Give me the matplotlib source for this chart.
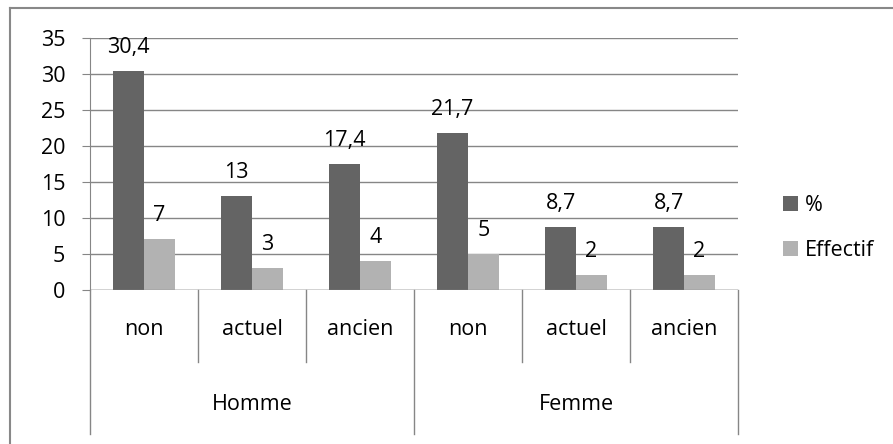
import numpy as np
import matplotlib.pyplot as plt
from matplotlib.lines import Line2D

plt.rcParams['font.family'] = ['Open Sans', 'DejaVu Sans']

# Data
groups = ['Homme', 'Femme']
statuts = ['non', 'actuel', 'ancien', 'non', 'actuel', 'ancien']
pourcent = [30.4, 13, 17.4, 21.7, 8.7, 8.7]
effectif = [7, 3, 4, 5, 2, 2]

dark = '#646464'
light = '#b2b2b2'
grid_c = '#868686'
fs = 15.5

W, H = 893, 444
fig = plt.figure(figsize=(W / 100, H / 100), dpi=100)
ax = fig.add_axes([90 / W, 1 - 289.7 / H, (738 - 90) / W, (289.7 - 37.7) / H])

x = np.arange(len(statuts)) + 0.5
bw = 0.285
b1 = ax.bar(x - bw / 2, pourcent, bw, color=dark, label='%', zorder=3)
b2 = ax.bar(x + bw / 2, effectif, bw, color=light, label='Effectif', zorder=3)

fmt = lambda v: ('%g' % v).replace('.', ',')
ax.bar_label(b1, labels=[fmt(v) for v in pourcent], padding=9.5, fontsize=fs)
ax.bar_label(b2, labels=[fmt(v) for v in effectif], padding=9.5, fontsize=fs)

ax.set_xlim(0, len(statuts))
ax.set_ylim(0, 35)
ax.set_yticks(range(0, 36, 5))
ax.tick_params(axis='y', length=5.8, color=grid_c, labelsize=fs, pad=12)
ax.set_xticks([])
ax.grid(axis='y', color=grid_c, lw=1, zorder=0)
for s in ['top', 'right', 'bottom']:
    ax.spines[s].set_visible(False)
ax.spines['left'].set_color(grid_c)
ax.axhline(0, color=grid_c, lw=1, zorder=4)

# multi-level category axis
tr = ax.get_xaxis_transform()
n = len(statuts)
per = n // len(groups)
for i in range(n + 1):
    low = -0.573 if i % per == 0 else -0.287
    ax.add_line(Line2D([i, i], [0, low], transform=tr, color=grid_c, lw=1, clip_on=False))
for i, s in enumerate(statuts):
    ax.text(i + 0.5, -0.156, s, transform=tr, ha='center', va='center', fontsize=fs)
for g, name in enumerate(groups):
    ax.text(g * per + per / 2, -0.454, name, transform=tr, ha='center', va='center', fontsize=fs)

ax.legend(loc='center left', bbox_to_anchor=(772 / W, 1 - 228 / H), bbox_transform=fig.transFigure,
          frameon=False, fontsize=fs, handlelength=0.7, handleheight=0.7,
          handletextpad=0.35, labelspacing=1.1, borderpad=0)

# chart border
fig.add_artist(Line2D([10 / W, 1], [1 - 8.5 / H] * 2, transform=fig.transFigure, color='#888888', lw=1.5))
fig.add_artist(Line2D([10 / W] * 2, [0, 1 - 8.5 / H], transform=fig.transFigure, color='#888888', lw=1.5))

fig.savefig('out.png', dpi=100)
